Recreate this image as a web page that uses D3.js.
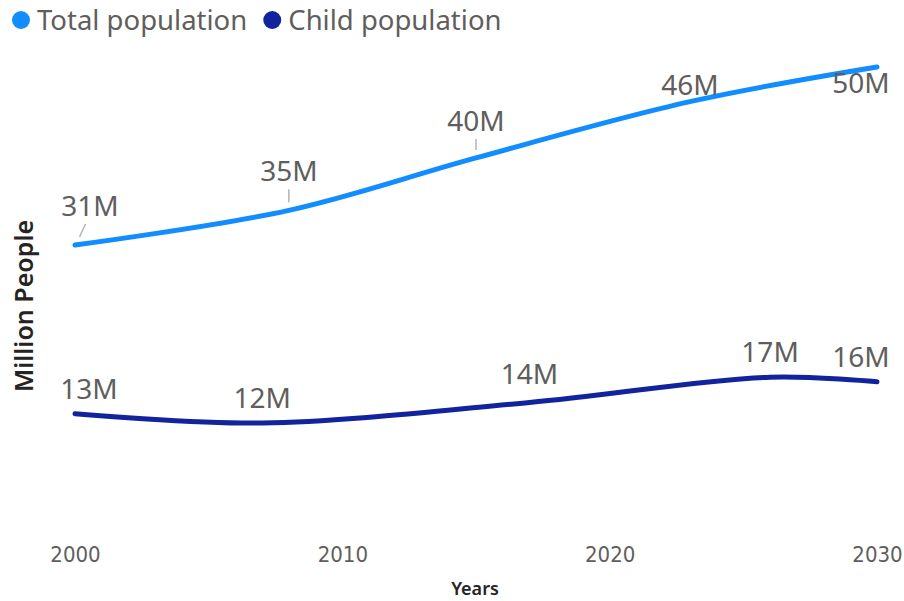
<!DOCTYPE html>
<html>
<head>
<meta charset="utf-8">
<script src="https://cdn.jsdelivr.net/npm/d3@7.9.0/dist/d3.min.js"></script>
<style>
  body { margin: 0; background: #fff; }
  svg { display: block; }
</style>
</head>
<body>
<svg id="chart" width="904" height="601"></svg>
<script>
// series names + colours
const seriesNames = ['Total population', 'Child population'];
const seriesColors = ['#118DFF', '#12239E'];

// total population (millions) at the labelled years
const totalYears = [2000, 2008, 2015, 2023, 2030];
const totalValues = [31, 34.7, 40.3, 46.3, 50];

// child population (millions)
const childYears = [2000, 2007, 2017, 2026, 2030];
const childValues = [13, 12, 14.2, 16.9, 16.4];

// x tick labels
const xTicks = [2000, 2010, 2020, 2030];

// label offsets (layout only): [dx, dy] from the point to the label baseline
const totalLabelOffsets = [[15, -29], [0, -29], [0, -27], [0, -7], [-16, 26]];
const childLabelOffsets = [[14, -15], [0, -15], [0, -18], [0, -15], [-16, -15]];
// which total labels get a leader line
const totalLeaders = [true, true, true, true, false];

const svg = d3.select('#chart');
const font = '"Noto Sans", "Open Sans", sans-serif';

const x = d3.scaleLinear().domain([2000, 2030]).range([75, 877]);
const y = d3.scaleLinear().domain([0, 50]).range([535.5, 67]);

// legend
const legend = svg.append('g').attr('font-family', font);
let lx = 21;
seriesNames.forEach((name, i) => {
  legend.append('circle').attr('cx', lx).attr('cy', 20).attr('r', 9).attr('fill', seriesColors[i]);
  let t = legend.append('text')
    .attr('x', lx + 16).attr('y', 30)
    .attr('font-size', 27.5).attr('fill', '#605E5C')
    .text(name);
  lx += 16 + t.node().getComputedTextLength() + 25;
});

// x axis (labels only)
const xAxis = svg.append('g')
  .attr('transform', 'translate(0,535)')
  .call(d3.axisBottom(x).tickValues(xTicks).tickFormat(d3.format('d')).tickSize(0).tickPadding(11));
xAxis.select('.domain').remove();
xAxis.selectAll('text')
  .attr('font-family', '"DejaVu Sans Condensed", "DejaVu Sans", sans-serif')
  .attr('font-size', 22)
  .attr('fill', '#605E5C');

// axis titles
svg.append('text')
  .attr('x', 475).attr('y', 595)
  .attr('text-anchor', 'middle')
  .attr('font-family', font).attr('font-size', 18).attr('font-weight', 600)
  .attr('fill', '#252423')
  .text('Years');

svg.append('text')
  .attr('transform', 'translate(33,306) rotate(-90)')
  .attr('text-anchor', 'middle')
  .attr('font-family', font).attr('font-size', 25).attr('font-weight', 600)
  .attr('fill', '#252423')
  .text('Million People');

const line = d3.line()
  .x(d => x(d[0]))
  .y(d => y(d[1]))
  .curve(d3.curveCatmullRom.alpha(0.5));

const totalData = d3.zip(totalYears, totalValues);
const childData = d3.zip(childYears, childValues);

[totalData, childData].forEach((data, i) => {
  svg.append('path')
    .datum(data)
    .attr('d', line)
    .attr('fill', 'none')
    .attr('stroke', seriesColors[i])
    .attr('stroke-width', 5)
    .attr('stroke-linecap', 'round');
});

const fmt = v => `${Math.round(v)}M`;

function drawLabels(data, offsets, leaders) {
  data.forEach((d, i) => {
    const px = x(d[0]), py = y(d[1]);
    const [dx, dy] = offsets[i];
    if (leaders && leaders[i]) {
      const lx1 = px + dx * 0.7, ly1 = py + dy + 8;
      const lx2 = px + dx * 0.3, ly2 = py - 8;
      svg.append('line')
        .attr('x1', lx1).attr('y1', ly1)
        .attr('x2', lx2).attr('y2', Math.max(ly1, ly2))
        .attr('stroke', '#b3b3b3').attr('stroke-width', 1.5);
    }
    svg.append('text')
      .attr('x', px + dx).attr('y', py + dy)
      .attr('text-anchor', 'middle')
      .attr('font-family', font).attr('font-size', 28)
      .attr('fill', '#605E5C')
      .text(fmt(d[1]));
  });
}

drawLabels(totalData, totalLabelOffsets, totalLeaders);
drawLabels(childData, childLabelOffsets, null);
</script>
</body>
</html>
